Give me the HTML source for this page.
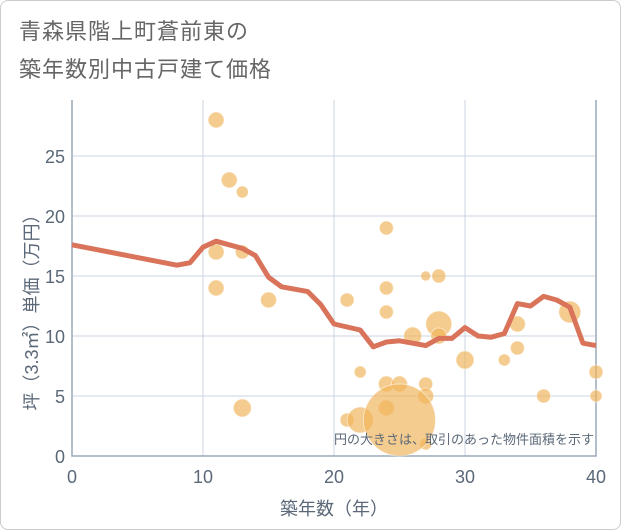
<!DOCTYPE html>
<html><head><meta charset="utf-8"><style>
body{margin:0;background:#fff;font-family:"Liberation Sans","Noto Sans CJK JP",sans-serif}
#wrap{position:relative;width:619px;height:528px;border:1px solid #ccc;border-radius:8px;overflow:hidden}
.t{position:absolute;left:18px;color:#666;font-size:22px;letter-spacing:1px}
</style></head><body>
<div id="wrap">
<div class="t" style="top:13px">青森県階上町蒼前東の</div>
<div class="t" style="top:51px">築年数別中古戸建て価格</div>
<svg id="svg" width="621" height="530" style="position:absolute;left:-1px;top:-1px"></svg>
</div>
<script>
const xTicks=[0,10,20,30,40];
const yTicks=[0,5,10,15,20,25];
const bubbleX=[11,12,13,11,13,11,15,13,21,21,22,22,24,24,24,24,24,25,26,27,28,27,27,27,28,28,30,33,34,34,36,38,40,40,25];
const bubbleY=[28,23,22,17,17,14,13,4,13,3,7,3,19,14,12,6,4,6,10,15,15,6,5,1,11,10,8,8,11,9,5,12,7,5,3];
const bubbleR=[8,8,6,8,7,8,8,9,7,7,6,13,7,7,7,8,8,8,9,5,7,7,8,6,13,8,9,6,8,7,7,11,7,6,36];
const lineX=[0,8,9,10,11,12,13,14,15,16,18,19,20,22,23,24,25,27,28,29,30,31,32,33,34,35,36,37,38,39,40];
const lineY=[17.6,15.9,16.1,17.4,17.9,17.6,17.3,16.7,14.9,14.1,13.7,12.6,11.0,10.5,9.1,9.5,9.6,9.2,9.8,9.8,10.7,10.0,9.9,10.2,12.7,12.5,13.3,13.0,12.4,9.4,9.2];
const X0=72,X1=596,Y0=456,YT=100;
const sx=v=>X0+(v-0)/40*(X1-X0);
const sy=v=>Y0-v*12;
const svg=document.getElementById('svg');
const NS='http://www.w3.org/2000/svg';
const TC='#5b6878';
function mk(t,a){const e=document.createElementNS(NS,t);for(const k in a)e.setAttribute(k,a[k]);svg.appendChild(e);return e;}
xTicks.forEach(v=>{const l=mk('line',{x1:sx(v),x2:sx(v),y1:YT,y2:Y0,stroke:'#c8d4e2','stroke-width':1});


const t=mk('text',{x:sx(v),y:Y0+27,'text-anchor':'middle','font-size':18,fill:TC});t.textContent=v;

});
yTicks.forEach(v=>{const l=mk('line',{x1:X0,x2:X1,y1:sy(v),y2:sy(v),stroke:'#c8d4e2','stroke-width':1});


const t=mk('text',{x:X0-7,y:sy(v)+7,'text-anchor':'end','font-size':18,fill:TC});t.textContent=v;

});
const ax=mk('path',{d:`M${X0} ${YT}V${Y0}H${X1}V${YT}`,fill:'none',stroke:'#99a8b8','stroke-width':1.5});


bubbleX.forEach((x,i)=>{const c=mk('circle',{cx:sx(x),cy:sy(bubbleY[i]),r:bubbleR[i],fill:'rgba(240,180,90,0.68)',stroke:'rgba(255,255,255,0.5)','stroke-width':1});

});
const p=mk('polyline',{points:lineX.map((x,i)=>sx(x)+','+sy(lineY[i])).join(' '),fill:'none',stroke:'#d9735a','stroke-width':5,'stroke-linejoin':'round'});


const n=mk('text',{x:594,y:444,'text-anchor':'end','font-size':13,fill:TC});n.textContent='円の大きさは、取引のあった物件面積を示す';


const xt=mk('text',{x:(X0+X1)/2,y:515,'text-anchor':'middle','font-size':18,fill:TC});xt.textContent='築年数（年）';


const yt=mk('text',{x:0,y:0,'text-anchor':'middle','font-size':18,fill:TC,transform:`translate(38,${(YT+Y0)/2+30}) rotate(-90)`});yt.textContent='坪（3.3㎡）単価（万円）';


</script>
</body></html>
